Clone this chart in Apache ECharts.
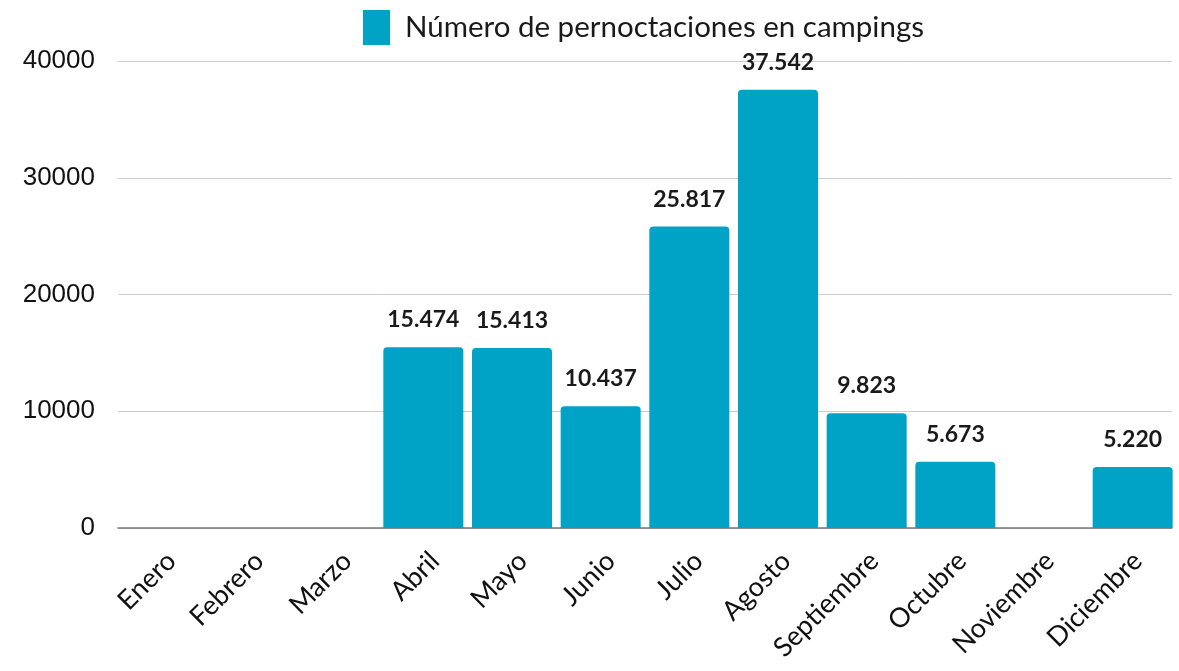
<!DOCTYPE html>
<html>
<head>
<meta charset="utf-8">
<script src="https://cdn.jsdelivr.net/npm/echarts@6/dist/echarts.min.js"></script>
<style>
html, body { margin: 0; padding: 0; background: #fff; }
#chart { width: 1179px; height: 671px; }
</style>
</head>
<body>
<div id="chart"></div>
<script>
const months = ['Enero', 'Febrero', 'Marzo', 'Abril', 'Mayo', 'Junio', 'Julio', 'Agosto', 'Septiembre', 'Octubre', 'Noviembre', 'Diciembre']
const nights = [null, null, null, 15474, 15413, 10437, 25817, 37542, 9823, 5673, null, 5220]
const yTicks = [0, 10000, 20000, 30000, 40000]

const FONT = 'Lato, "Noto Sans", sans-serif'
const yMin = yTicks[0], yMax = yTicks[yTicks.length - 1]
const chart = echarts.init(document.getElementById('chart'))

// grid 0: visible axes / gridlines, grid 1: the bars (slightly wider band, like the original)
chart.setOption({
  animation: false,
  legend: {
    top: 5, left: 358,
    itemWidth: 27, itemHeight: 35, itemGap: 8,
    icon: 'rect',
    textStyle: { fontFamily: FONT, fontSize: 29.5, color: '#1a1a1a', padding: [0, 0, 0, 10] },
    data: ['Número de pernoctaciones en campings']
  },
  grid: [
    { top: 61, left: 118, right: 7, bottom: 143 },
    { top: 61, left: 113, right: 2, bottom: 143 }
  ],
  xAxis: [{
    type: 'category', gridIndex: 0,
    data: months,
    axisLine: { lineStyle: { color: '#777', width: 1.5 } },
    axisTick: { show: false },
    axisLabel: {
      rotate: 45, interval: 0, margin: 19, verticalAlign: 'top',
      fontFamily: FONT, fontSize: 27, color: '#111'
    }
  }, {
    type: 'category', gridIndex: 1, data: months, show: false
  }],
  yAxis: [{
    type: 'value', gridIndex: 0, min: yMin, max: yMax, interval: 10000,
    axisLine: { show: false }, axisTick: { show: false },
    axisLabel: {
      fontFamily: '"Liberation Sans", Arial, sans-serif', fontSize: 26, color: '#111', margin: 23,
      formatter: v => String(v)
    },
    splitLine: { lineStyle: { color: '#cccccc', width: 1 } }
  }, {
    type: 'value', gridIndex: 1, min: yMin, max: yMax, show: false
  }],
  series: [{
    name: 'Número de pernoctaciones en campings',
    type: 'bar',
    xAxisIndex: 1, yAxisIndex: 1,
    data: nights,
    barWidth: 80,
    itemStyle: { color: '#00a2c5', borderRadius: [4, 4, 0, 0] },
    label: {
      show: true, position: 'top', distance: 16,
      fontFamily: FONT, fontSize: 23, fontWeight: 'bold', color: '#1a1a1a',
      formatter: p => p.value == null ? '' : p.value.toLocaleString('de-DE')
    }
  }]
})
</script>
</body>
</html>
